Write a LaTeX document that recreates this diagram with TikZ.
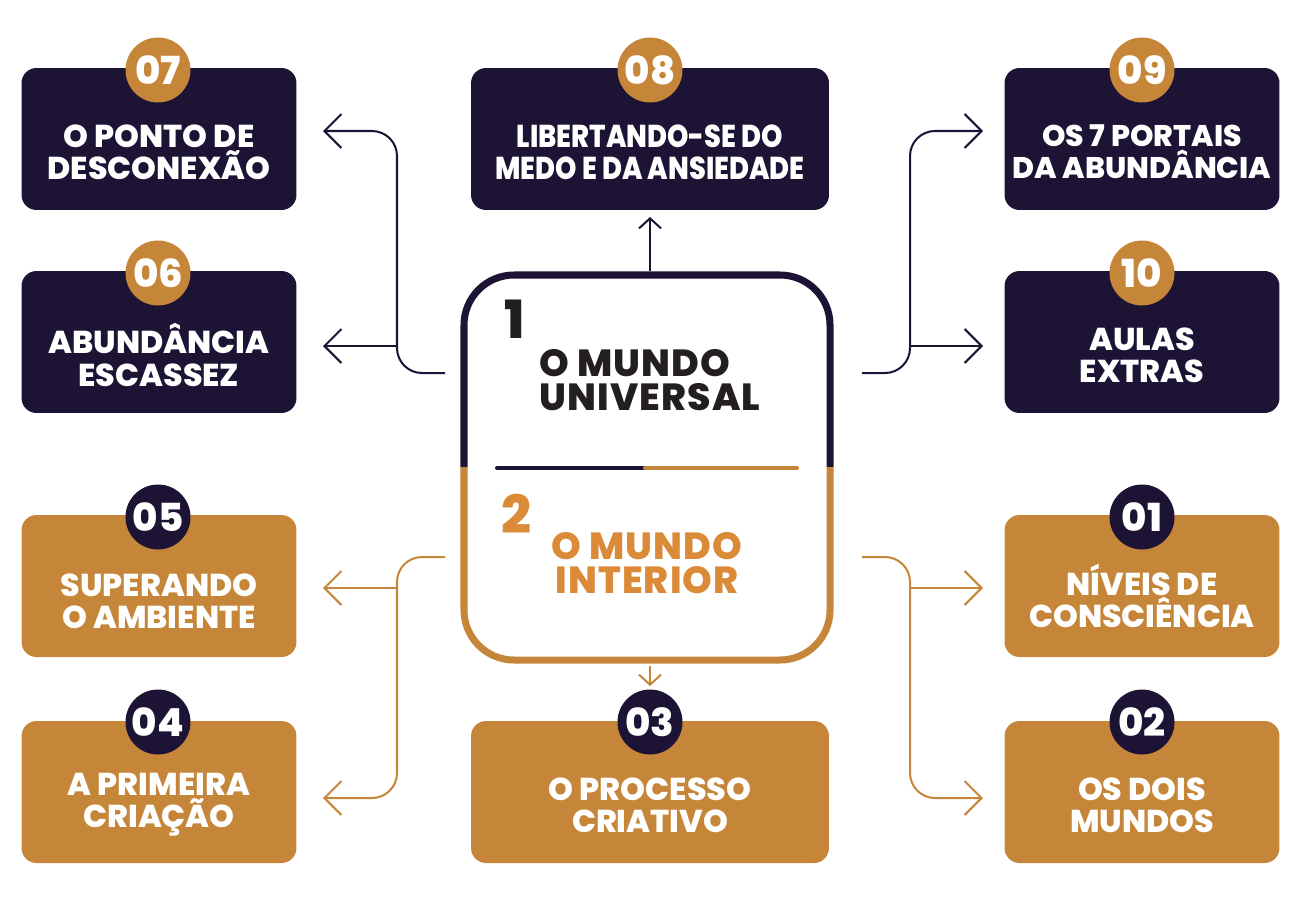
\documentclass[tikz,border=0pt]{standalone}
\usepackage{fontspec}
\setmainfont{Poppins}[BoldFont={Poppins ExtraBold}]
\newfontfamily\narrowfont{Poppins}[BoldFont={Poppins ExtraBold}, FakeStretch=0.86]
\newfontfamily\widefont{Poppins}[BoldFont={Poppins ExtraBold}, LetterSpace=3]
\usetikzlibrary{arrows.meta}

\begin{document}
\begin{tikzpicture}[x=0.02cm,y=-0.02cm,
  navybox/.style={fill=colornavy, rounded corners=0.3cm, minimum width=5.5cm, minimum height=2.84cm, inner sep=0pt},
  goldbox/.style={navybox, fill=colorgold},
  widebox/.style={minimum width=7.16cm},
  boxtext/.style={text=white, align=center, inner sep=0pt, font=\bfseries\fontsize{18}{18.4}\selectfont},
  numgold/.style={circle, fill=colorgold, minimum size=1.3cm, inner sep=0pt, text=white, font=\bfseries\fontsize{22}{22}\selectfont},
  numnavy/.style={numgold, fill=colornavy},
  linknavy/.style={draw=colornavy, line width=1.15pt, rounded corners=0.5cm, -{Straight Barb[length=3.4mm,width=6.8mm]}},
  linkgold/.style={linknavy, draw=colorgold}]
% Define colors
\definecolor{colornavy}{HTML}{1C1335}
\definecolor{colorgold}{HTML}{C6863A}
\definecolor{colororange}{HTML}{DB8A38}
\definecolor{colordark}{HTML}{231F20}
\useasboundingbox (0,0) rectangle (1300,900);
  %%%%%%%%%% Central box
  \draw[colornavy, line width=4pt, rounded corners=1cm] (464,467) |- (830,275) -- (830,467);
  \draw[colorgold, line width=4pt, rounded corners=1cm] (464,467) |- (830,660) -- (830,467);
  \coordinate (divL) at (497,468);
  \coordinate (divM) at (645,468);
  \coordinate (divR) at (797,468);
  \draw[colornavy, line width=2.3pt, line cap=round] (divL) -- (divM);
  \draw[colorgold, line width=2.3pt, line cap=round] (divM) -- (divR);
  % Marks
  \node[anchor=base west, inner sep=0pt, text=colordark, font=\bfseries\fontsize{30}{30}\selectfont] (one) at (504,338) {1};
  \node[anchor=west, align=left, inner sep=0pt, text=colordark, font=\widefont\bfseries\fontsize{21.5}{19.6}\selectfont] (universal) at (539,380) {O MUNDO\\UNIVERSAL};
  \node[anchor=base west, inner sep=0pt, text=colororange, font=\bfseries\fontsize{30}{30}\selectfont] (two) at (501,533) {2};
  \node[align=center, inner sep=0pt, text=colororange, font=\widefont\bfseries\fontsize{21.5}{19.6}\selectfont] (interior) at (647,563) {O MUNDO\\INTERIOR};
  %%%%%%%%%% Boxes
  \node[navybox] (b07) at (159,139) {};
  \node[boxtext] at ([yshift=-0.26cm]b07.center) {O PONTO DE\\DESCONEX\~AO};
  \node[numgold] (n07) at (158,70) {07};
  \node[navybox] (b06) at (159,342) {};
  \node[boxtext] at ([yshift=-0.26cm]b06.center) {ABUND\^ANCIA\\ESCASSEZ};
  \node[numgold] (n06) at (158,273) {06};
  \node[navybox, widebox] (b08) at (650,139) {};
  \node[boxtext, font=\narrowfont\bfseries\fontsize{18}{18.4}\selectfont] at ([yshift=-0.26cm]b08.center) {LIBERTANDO-SE DO\\MEDO E DA ANSIEDADE};
  \node[numgold] (n08) at (650,70) {08};
  \node[navybox] (b09) at (1142,139) {};
  \node[boxtext, font=\bfseries\fontsize{17}{18.4}\selectfont] at ([yshift=-0.26cm]b09.center) {OS 7 PORTAIS\\DA ABUND\^ANCIA};
  \node[numgold] (n09) at (1142,70) {09};
  \node[navybox] (b10) at (1142,342) {};
  \node[boxtext] at ([yshift=-0.26cm]b10.center) {AULAS\\EXTRAS};
  \node[numgold] (n10) at (1142,273) {10};
  \node[goldbox] (b05) at (159,586) {};
  \node[boxtext] at ([yshift=-0.3cm]b05.center) {SUPERANDO\\O AMBIENTE};
  \node[numnavy] (n05) at (158,517) {05};
  \node[goldbox] (b04) at (159,792) {};
  \node[boxtext] at ([yshift=-0.26cm]b04.center) {A PRIMEIRA\\CRIA\c{C}\~AO};
  \node[numnavy] (n04) at (158,722) {04};
  \node[goldbox, widebox] (b03) at (650,792) {};
  \node[boxtext] at ([yshift=-0.26cm]b03.center) {O PROCESSO\\CRIATIVO};
  \node[numnavy] (n03) at (650,722) {03};
  \node[goldbox] (b01) at (1142,586) {};
  \node[boxtext] at ([yshift=-0.2cm]b01.center) {N\'IVEIS DE\\CONSCI\^ENCIA};
  \node[numnavy] (n01) at (1142,517) {01};
  \node[goldbox] (b02) at (1142,792) {};
  \node[boxtext] at ([yshift=-0.26cm]b02.center) {OS DOIS\\MUNDOS};
  \node[numnavy] (n02) at (1142,722) {02};
  %%%%%%%%%% Arrows
  \coordinate (outNW) at (445,373);
  \coordinate (outNE) at (862,373);
  \coordinate (outSW) at (445,557);
  \coordinate (outSE) at (862,557);
  \coordinate (jW) at (397,0);
  \coordinate (jE) at (910,0);
  \coordinate (tip07) at (323,131);
  \coordinate (tip06) at (323,346);
  \coordinate (tip05) at (323,588);
  \coordinate (tip04) at (323,798);
  \coordinate (tip09) at (983,131);
  \coordinate (tip10) at (983,346);
  \coordinate (tip01) at (983,588);
  \coordinate (tip02) at (983,798);
  \draw[linknavy] (outNW) -- (outNW -| jW) |- (tip07);
  \draw[linknavy] (jW |- tip06) -- (tip06);
  \draw[linknavy] (outNE) -- (outNE -| jE) |- (tip09);
  \draw[linknavy] (jE |- tip10) -- (tip10);
  \draw[linkgold] (outSW) -- (outSW -| jW) |- (tip04);
  \draw[linkgold] (jW |- tip05) -- (tip05);
  \draw[linkgold] (outSE) -- (outSE -| jE) |- (tip02);
  \draw[linkgold] (jE |- tip01) -- (tip01);
  % Up and down
  \coordinate (outN) at (650,271);
  \coordinate (tip08) at (650,217);
  \coordinate (outS) at (650,666);
  \coordinate (tip03) at (650,686);
  \draw[linknavy, -{Straight Barb[length=2mm,width=4.4mm]}] (outN) -- (tip08);
  \draw[linkgold, -{Straight Barb[length=2mm,width=4.4mm]}] (outS) -- (tip03);
\end{tikzpicture}
\end{document}
